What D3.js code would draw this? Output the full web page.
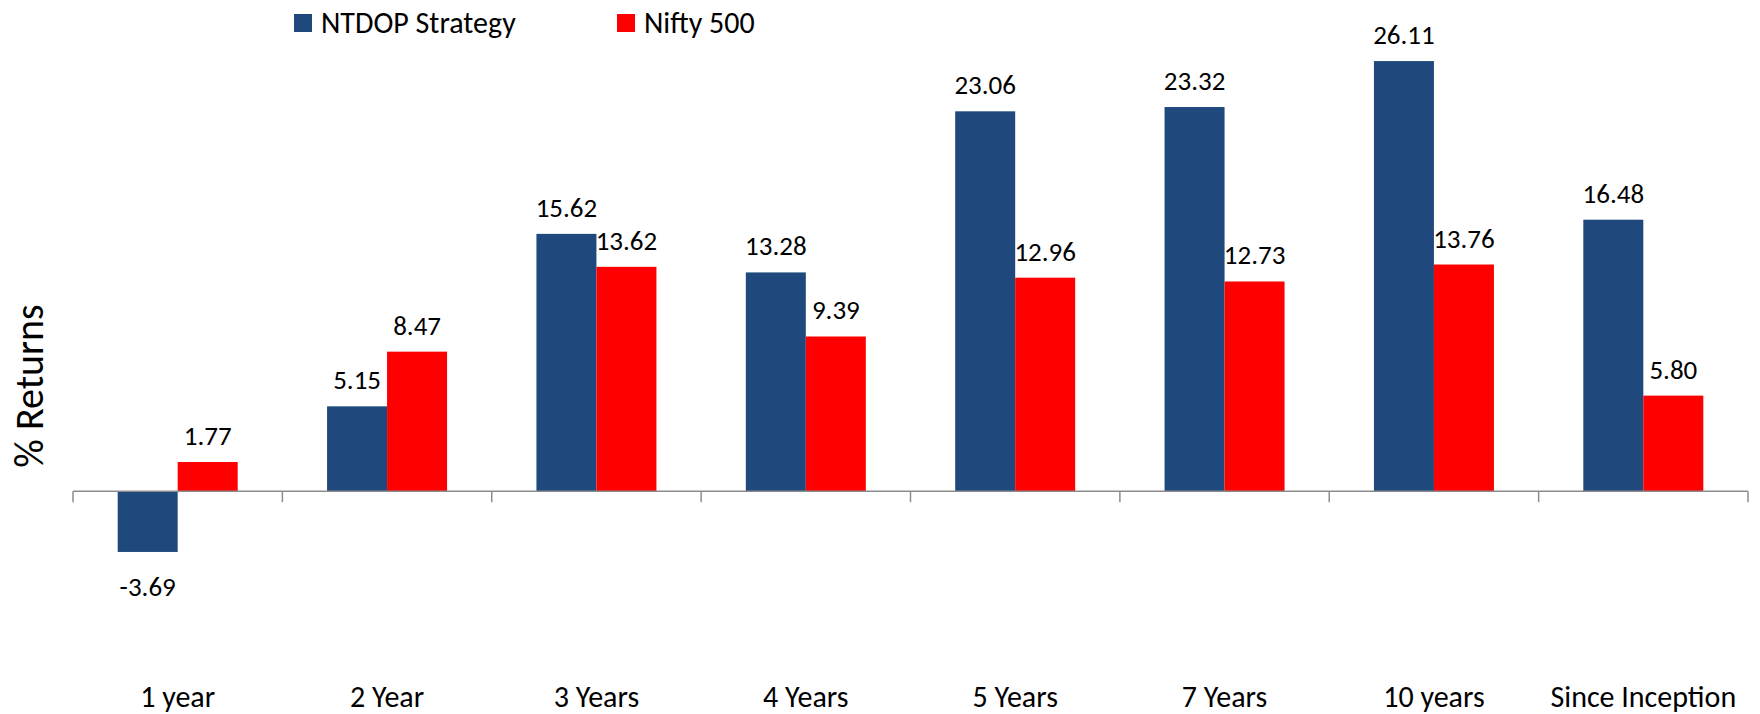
<!DOCTYPE html>
<html>
	<head>
		<meta charset="utf-8">
		<script src="https://cdn.jsdelivr.net/npm/d3@7/dist/d3.min.js"></script>
		<style>
			body { margin: 0; background: #fff; }
			text { font-family: Carlito, Calibri, Lato, sans-serif; fill: #000; }
		</style>
	</head>
	<body>
		<script type="text/javascript">

			// chart data
			var categories = ["1 year", "2 Year", "3 Years", "4 Years", "5 Years",
							  "7 Years", "10 years", "Since Inception"];
			var ntdop = [-3.69, 5.15, 15.62, 13.28, 23.06, 23.32, 26.11, 16.48];
			var nifty = [1.77, 8.47, 13.62, 9.39, 12.96, 12.73, 13.76, 5.80];
			var seriesNames = ["NTDOP Strategy", "Nifty 500"];
			var seriesColors = ["#1F497D", "#FF0000"];

			var width = 1760,
				height = 714;

			var svg = d3.select("body")
				.append("svg")
				.attr("width", width)
				.attr("height", height);

			// scales
			var x = d3.scaleBand()
				.domain(categories)
				.range([73, 1748]);
			var x1 = d3.scaleBand()
				.domain(seriesNames)
				.range([0, 120]);
			var y = d3.scaleLinear()
				.domain([-6, 30])
				.range([590, -3]);

			// bars for both series
			var series = [ntdop, nifty];
			series.forEach(function(vals, s) {
				var name = seriesNames[s];
				var g = svg.append("g");
				g.selectAll("rect")
					.data(vals)
					.enter()
					.append("rect")
					.attr("x", function(d, i) {
						return x(categories[i]) + (x.bandwidth() - 120) / 2 + x1(name);
					})
					.attr("y", function(d) { return y(Math.max(0, d)); })
					.attr("width", x1.bandwidth())
					.attr("height", function(d) { return Math.abs(y(d) - y(0)); })
					.style("fill", seriesColors[s]);

				// value labels above (or below) each bar
				g.selectAll("text")
					.data(vals)
					.enter()
					.append("text")
					.attr("x", function(d, i) {
						return x(categories[i]) + (x.bandwidth() - 120) / 2 +
							x1(name) + x1.bandwidth() / 2;
					})
					.attr("y", function(d) { return d < 0 ? y(d) + 44 : y(d) - 17; })
					.style("text-anchor", "middle")
					.style("font-size", "27px")
					.text(function(d) { return d.toFixed(2); });
			});

			// category axis at zero, ticks pointing down
			var xAxis = d3.axisBottom(x)
				.tickSize(0)
				.tickFormat("");
			var axisG = svg.append("g")
				.attr("transform", "translate(0," + y(0) + ")")
				.call(xAxis);
			axisG.select(".domain").remove();
			axisG.append("line")
				.attr("x1", 73).attr("x2", 1748)
				.style("stroke", "#8C8C8C")
				.style("stroke-width", 1.5);
			var bounds = categories.map(function(c) { return x(c); }).concat([x.range()[1]]);
			axisG.selectAll(".sep")
				.data(bounds)
				.enter()
				.append("line")
				.attr("class", "sep")
				.attr("x1", function(d) { return d; })
				.attr("x2", function(d) { return d; })
				.attr("y1", 0)
				.attr("y2", 11)
				.style("stroke", "#8C8C8C")
				.style("stroke-width", 1.5);

			// category labels along the bottom
			svg.append("g").selectAll("text")
				.data(categories)
				.enter()
				.append("text")
				.attr("x", function(d) { return x(d) + x.bandwidth() / 2; })
				.attr("y", 707)
				.style("text-anchor", "middle")
				.style("font-size", "30px")
				.text(function(d) { return d; });

			// y-axis title
			svg.append("text")
				.attr("transform", "translate(43,386) rotate(-90)")
				.style("text-anchor", "middle")
				.style("font-size", "40px")
				.text("% Returns");

			// legend
			var legendX = [294, 617];
			seriesNames.forEach(function(n, i) {
				svg.append("rect")
					.attr("x", legendX[i])
					.attr("y", 14)
					.attr("width", 18)
					.attr("height", 18)
					.style("fill", seriesColors[i]);
				svg.append("text")
					.attr("x", legendX[i] + 27)
					.attr("y", 33)
					.style("font-size", "30px")
					.text(n);
			});

		</script>
	</body>
</html>
